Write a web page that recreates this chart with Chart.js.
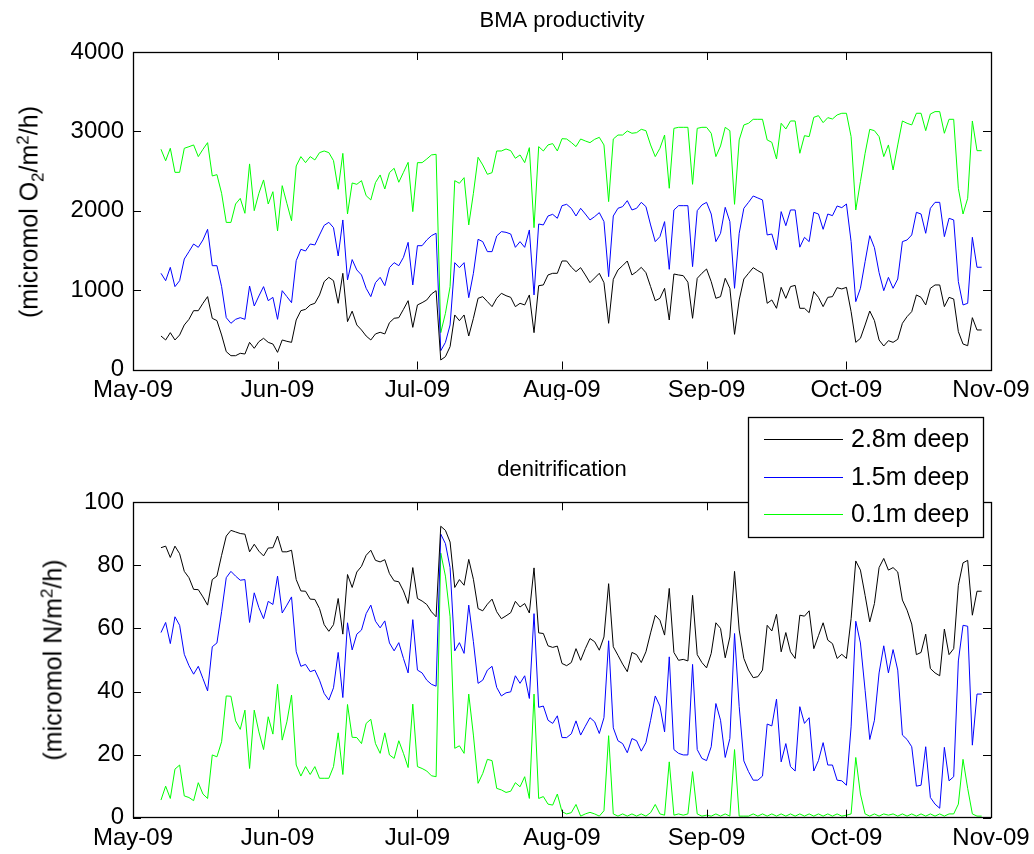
<!DOCTYPE html>
<html>
<head>
<meta charset="utf-8">
<title>BMA productivity and denitrification</title>
<script src="https://cdn.jsdelivr.net/npm/chart.js@4.4.1/dist/chart.umd.min.js"></script>
<style>
  html, body { margin: 0; padding: 0; background: #fff; }
  #wrap { position: relative; width: 1034px; height: 854px; overflow: hidden;
          font-family: 'Liberation Sans', Arial, sans-serif; }
  canvas { position: absolute; left: 0; }
  #topChart { top: 0; }
  #bottomChart { top: 400px; }
  .ylab { position: absolute; font-size: 25px; white-space: nowrap; color: #000;
          transform: translate(-50%, -50%) rotate(-90deg); line-height: 1; }
  .ylab sub, .ylab sup { font-size: 17px; line-height: 0; }
</style>
</head>
<body>
<div id="wrap">
  <canvas id="topChart" width="1034" height="400"></canvas>
  <canvas id="bottomChart" width="1034" height="454"></canvas>
  <div class="ylab" style="left:29px; top:212px">(micromol O<sub>2</sub>/m<sup>2</sup>/h)</div>
  <div class="ylab" style="left:53px; top:660px">(micromol N/m<sup>2</sup>/h)</div>
</div>
<script>
// Daily series, 7 May 2009 – 30 Oct 2009
const firstDate = '2009-05-07';
const seriesLabels = ['2.8m deep', '1.5m deep', '0.1m deep'];
const monthLabels = ['May-09', 'Jun-09', 'Jul-09', 'Aug-09', 'Sep-09', 'Oct-09', 'Nov-09'];

// BMA productivity (micromol O2/m2/h)
const prodDeep = [
  422,372,464,372,435,561,632,741,741,834,
  918,645,616,435,225,174,174,204,195,342,
  267,351,393,342,321,216,372,355,342,624,
  741,758,813,834,939,1107,1161,1119,834,1212,
  603,735,561,498,422,372,448,469,448,590,
  645,653,758,867,531,813,842,876,951,993,
  120,162,288,687,615,687,422,645,897,918,
  855,792,897,960,930,909,792,834,813,939,
  464,1056,1065,1191,1212,1212,1367,1367,1290,1233,
  1283,1191,1094,1153,1212,1094,582,1136,1254,1308,
  1367,1191,1233,1287,1220,1044,867,897,1023,624,
  1203,1191,1182,1100,645,1149,1212,1266,1107,897,
  918,1149,1023,443,876,1140,1212,1283,1245,1212,
  834,876,771,1035,897,1044,1060,771,771,716,
  981,909,792,909,918,1031,1015,1035,729,342,
  393,561,737,616,372,296,363,342,380,582,
  666,729,939,909,813,1023,1065,1065,792,909,
  888,477,321,300,653,498,498
];
const prodMid = [
  1212,1119,1287,1044,1119,1392,1485,1581,1539,1632,
  1766,1308,1308,1044,653,582,632,653,632,1052,
  800,926,1044,867,909,632,993,918,842,1371,
  1514,1493,1581,1569,1695,1816,1854,1787,1430,1884,
  1128,1385,1254,1191,1023,918,1094,1161,1056,1283,
  1346,1308,1413,1602,1065,1560,1560,1632,1686,1716,
  237,342,561,1346,1283,1346,905,1212,1640,1611,
  1485,1485,1682,1737,1728,1707,1539,1611,1539,1758,
  939,1833,1821,1934,1955,1905,2064,2081,2030,1934,
  2031,1959,1884,1926,1976,1863,1170,1934,2031,2052,
  2127,2010,2031,2106,2052,1821,1611,1674,1863,1262,
  2010,2064,2064,2064,1296,2001,2073,2106,1959,1611,
  1716,2043,1863,1023,1716,2031,2106,2186,2161,2136,
  1695,1707,1506,1989,1812,2010,2010,1541,1665,1611,
  1980,1959,1766,1959,1938,2060,2039,2085,1611,855,
  1023,1359,1686,1535,1220,993,1161,1023,1140,1611,
  1632,1695,1980,1959,1716,2031,2106,2106,1674,1905,
  1884,1107,813,834,1665,1288,1288
];
const prodShallow = [
  2775,2630,2787,2484,2484,2787,2807,2829,2682,2774,
  2858,2438,2455,2220,1853,1853,2085,2156,1968,2590,
  2001,2220,2388,2085,2240,1745,2316,2093,1874,2564,
  2682,2606,2682,2640,2732,2753,2732,2631,2270,2723,
  1959,2350,2333,2379,2190,2136,2354,2451,2274,2480,
  2535,2359,2484,2610,1989,2606,2606,2652,2703,2711,
  464,708,1044,2379,2346,2417,1821,2220,2674,2577,
  2459,2480,2753,2753,2778,2757,2661,2703,2606,2795,
  1787,2808,2753,2829,2846,2753,2908,2904,2860,2808,
  2904,2879,2858,2900,2925,2829,2115,2904,2954,2954,
  3005,2976,2984,3026,3009,2829,2682,2787,2954,2283,
  3038,3051,3051,3051,2333,3038,3051,3051,2976,2682,
  2816,3051,3009,2081,2892,3081,3102,3152,3152,3152,
  2892,2862,2652,3102,3030,3131,3131,2724,2946,2934,
  3177,3198,3110,3173,3156,3207,3228,3228,2934,2010,
  2367,2724,3026,3009,2934,2682,2829,2514,2829,3131,
  3102,3081,3228,3228,3009,3219,3249,3249,2976,3152,
  3152,2283,1959,2157,3131,2757,2757
];

// Denitrification (micromol N/m2/h)
const denitDeep = [
  85.6,86.1,82.5,86.1,83.7,78.1,76.1,72.4,72.3,70.0,
  67.4,75.5,76.6,83.2,89.3,91.1,90.6,90.1,89.9,84.3,
  86.7,84.5,83.0,85.5,85.6,89.3,84.3,84.3,84.8,75.5,
  71.9,71.8,69.3,69.2,66.3,61.2,59.1,61.2,69.5,58.2,
  77.1,73.0,77.9,79.7,83.2,84.8,81.6,81.1,81.8,77.4,
  75.1,74.8,71.9,67.9,79.3,69.5,68.7,67.6,65.3,63.7,
  92.4,91.1,87.4,73.0,75.5,73.7,81.9,75.6,66.3,65.6,
  67.7,69.3,65.3,63.1,64.0,65.0,68.6,66.8,67.9,64.9,
  79.2,58.6,58.4,54.5,54.0,54.4,48.9,48.2,49.2,53.6,
  49.9,53.6,56.8,55.8,53.1,57.3,74.2,54.2,51.5,48.7,
  46.3,52.4,51.7,49.2,52.6,58.6,64.2,62.6,57.9,72.7,
  52.4,49.9,50.2,49.7,70.5,51.7,49.2,47.5,52.1,61.8,
  60.0,50.7,57.3,78.1,59.5,50.5,46.8,44.4,44.7,46.8,
  61.0,59.2,64.5,52.6,58.7,52.6,50.5,64.2,63.9,65.6,
  53.6,57.7,61.8,56.3,55.2,50.5,51.8,50.5,63.1,81.4,
  78.5,70.5,62.1,67.9,79.3,82.2,78.5,79.3,77.9,69.0,
  65.8,61.4,51.7,52.4,58.2,47.3,45.9,45.0,59.8,51.7,
  53.6,73.7,80.8,81.6,64.2,71.8,71.8
];
const denitMid = [
  58.7,61.9,55.2,63.7,61.0,51.8,48.2,45.5,48.0,44.1,
  40.2,54.2,55.4,65.3,76.1,78.1,76.6,75.3,75.5,61.9,
  71.3,66.6,63.1,68.6,67.6,76.6,64.9,67.4,70.0,52.6,
  48.0,48.6,46.3,46.8,43.6,39.4,37.3,41.2,52.4,38.1,
  61.8,53.2,58.2,59.5,64.7,67.4,62.3,60.2,62.4,55.4,
  52.9,55.5,50.5,45.9,62.8,46.8,45.9,43.6,42.3,41.7,
  89.9,86.9,79.3,52.9,55.5,52.1,67.4,55.8,42.6,43.6,
  46.8,48.0,41.3,38.6,39.6,39.9,45.0,42.6,45.0,37.8,
  64.7,35.0,35.4,30.9,29.9,32.3,25.4,25.4,26.6,30.7,
  26.2,29.0,31.7,30.4,26.7,31.7,56.1,28.5,24.4,23.5,
  20.6,25.1,24.4,21.1,23.8,30.9,38.6,35.4,27.2,51.0,
  21.6,20.4,19.9,19.9,48.6,21.6,18.8,18.1,22.5,36.2,
  30.9,19.1,25.1,58.4,35.2,18.0,14.6,11.9,11.9,13.2,
  29.7,29.1,37.6,17.7,23.5,16.2,14.8,35.2,29.9,31.7,
  14.8,18.1,23.8,16.7,16.7,11.9,11.7,10.3,28.8,62.3,
  55.4,40.4,24.8,30.9,45.9,54.5,45.9,53.3,46.8,26.2,
  24.8,22.5,10.0,10.3,22.5,6.4,4.3,3.0,22.3,11.7,
  13.0,49.7,61.0,60.7,23.0,39.2,39.2
];
const denitShallow = [
  5.6,10.0,6.1,15.4,16.7,6.9,6.4,5.4,11.1,7.5,
  6.1,19.9,19.3,24.1,38.6,38.5,30.7,28.0,34.1,15.6,
  34.1,27.2,21.6,32.0,26.5,42.3,24.6,30.4,38.9,16.7,
  13.2,16.2,13.7,16.2,12.5,12.5,12.5,16.2,26.9,13.7,
  35.9,25.5,25.4,23.5,29.9,31.2,23.5,20.4,26.9,19.9,
  18.8,24.4,20.4,15.9,36.0,16.2,15.6,14.8,13.3,13.0,
  83.9,76.6,63.7,22.0,22.8,20.4,39.2,26.2,10.9,14.0,
  18.5,18.1,9.3,8.8,8.0,8.4,11.1,9.8,13.0,6.1,
  39.2,6.1,6.7,4.3,4.0,7.5,1.9,1.2,1.6,4.2,
  0.5,1.2,1.7,1.2,0.5,2.2,26.0,1.2,0.5,1.2,
  0.5,1.2,0.5,1.2,0.5,1.6,4.2,1.2,0.8,17.7,
  0.8,1.2,0.8,1.2,14.6,1.2,0.5,0.8,0.5,1.2,
  0.5,1.2,0.5,21.6,0.5,0.5,0.5,1.2,0.5,1.2,
  0.5,1.2,0.5,1.2,0.5,1.2,0.5,1.2,0.5,1.2,
  0.5,1.2,0.5,1.2,0.5,1.2,0.5,0.8,1.2,19.1,
  7.5,1.2,0.5,1.2,0.5,1.2,0.8,1.2,0.5,1.2,
  0.5,1.2,0.5,1.2,0.5,1.2,0.5,1.2,0.5,1.2,
  1.2,4.3,18.5,9.3,1.2,0.5,0.5
];

const seriesColors = ['#000000', '#0000ff', '#00ff00'];

// x axis runs in days counted from 1 May 2009
const DAY = 86400000;
const origin = Date.UTC(2009, 4, 1);
const monthStarts = monthLabels.map((_, i) => (Date.UTC(2009, 4 + i, 1) - origin) / DAY);
const startDay = (Date.parse(firstDate + 'T00:00:00Z') - origin) / DAY;

function toPoints(values) {
  return values.map((v, i) => ({ x: startDay + i, y: v }));
}

const FONT = "'Liberation Sans', Arial, sans-serif";
Chart.defaults.font.family = FONT;
Chart.defaults.color = '#000';

const TICK_LEN = 8;

// MATLAB-style box with inward ticks on all four sides, plus a title centred over the axes
const boxFrame = {
  id: 'boxFrame',
  afterDatasetsDraw(chart, args, opts) {
    const { ctx, chartArea: a, scales: { x, y } } = chart;
    ctx.save();
    ctx.strokeStyle = '#000';
    ctx.lineWidth = 1;
    ctx.beginPath();
    x.ticks.forEach(t => {
      const px = Math.round(x.getPixelForValue(t.value)) + 0.5;
      ctx.moveTo(px, a.bottom); ctx.lineTo(px, a.bottom - TICK_LEN);
      ctx.moveTo(px, a.top); ctx.lineTo(px, a.top + TICK_LEN);
    });
    y.ticks.forEach(t => {
      const py = Math.round(y.getPixelForValue(t.value)) + 0.5;
      ctx.moveTo(a.left, py); ctx.lineTo(a.left + TICK_LEN, py);
      ctx.moveTo(a.right, py); ctx.lineTo(a.right - TICK_LEN, py);
    });
    ctx.stroke();
    ctx.lineWidth = 1.3;
    ctx.strokeRect(Math.round(a.left) + 0.5, Math.round(a.top) + 0.5,
                   Math.round(a.width), Math.round(a.height));
    if (opts.title) {
      ctx.fillStyle = '#000';
      ctx.font = '22px ' + FONT;
      ctx.textAlign = 'center';
      ctx.textBaseline = 'middle';
      ctx.fillText(opts.title, (a.left + a.right) / 2, opts.titleY);
    }
    ctx.restore();
  }
};

// Boxed legend placed over the upper-right corner of the lower axes
const boxedLegend = {
  id: 'boxedLegend',
  afterDraw(chart, args, opts) {
    if (!opts || !opts.width) return;
    const { ctx } = chart;
    const { left, top, width, height, rowGap, lineLen, textGap } = opts;
    ctx.save();
    ctx.fillStyle = '#fff';
    ctx.fillRect(left, top, width, height);
    ctx.strokeStyle = '#000';
    ctx.lineWidth = 1.3;
    ctx.strokeRect(left + 0.5, top + 0.5, width, height);
    ctx.font = '25px ' + FONT;
    ctx.textBaseline = 'middle';
    ctx.textAlign = 'left';
    chart.data.datasets.forEach((ds, i) => {
      const cy = Math.round(top + opts.firstRow + i * rowGap) + 0.5;
      ctx.strokeStyle = seriesColors[i];
      ctx.lineWidth = 1.2;
      ctx.beginPath();
      ctx.moveTo(left + 16, cy);
      ctx.lineTo(left + 16 + lineLen, cy);
      ctx.stroke();
      ctx.fillStyle = '#000';
      ctx.fillText(ds.label, left + 16 + lineLen + textGap, cy + 1);
    });
    ctx.restore();
  }
};

function makeChart(canvasId, cfg) {
  const datasets = cfg.series.map((vals, i) => ({
    label: seriesLabels[i],
    data: toPoints(vals),
    borderColor: seriesColors[i],
    backgroundColor: seriesColors[i],
    borderWidth: 1,
    pointRadius: 0,
    tension: 0,
    fill: false
  }));
  return new Chart(document.getElementById(canvasId), {
    type: 'line',
    data: { datasets },
    plugins: cfg.extraPlugins,
    options: {
      responsive: false,
      animation: false,
      events: [],
      layout: { padding: { left: 0, right: 43, top: cfg.plotTop, bottom: 0 } },
      plugins: {
        legend: { display: false },
        tooltip: { enabled: false },
        title: { display: false },
        boxFrame: { title: cfg.title, titleY: cfg.titleY },
        boxedLegend: cfg.legend || {}
      },
      scales: {
        x: {
          type: 'linear',
          min: monthStarts[0],
          max: monthStarts[monthStarts.length - 1],
          grid: { display: false, drawTicks: false },
          border: { display: false },
          afterBuildTicks(scale) { scale.ticks = monthStarts.map(v => ({ value: v })); },
          afterFit(scale) {
            scale.height = cfg.xHeight;
            scale.paddingLeft = 0; scale.paddingRight = 0;
          },
          ticks: {
            autoSkip: false, maxRotation: 0, minRotation: 0,
            padding: 6, color: '#000',
            font: { size: 24 },
            callback: (v, i) => monthLabels[i]
          }
        },
        y: {
          min: cfg.yMin, max: cfg.yMax,
          grid: { display: false, drawTicks: false },
          border: { display: false },
          afterFit(scale) {
            scale.width = 133;
            scale.paddingTop = 0; scale.paddingBottom = 0;
          },
          ticks: {
            stepSize: cfg.yStep, padding: 9, color: '#000', font: { size: 24 },
            callback: v => String(v)
          }
        }
      }
    }
  });
}

makeChart('topChart', {
  title: 'BMA productivity',
  titleY: 21,
  plotTop: 52,
  xHeight: 30.5,
  yMin: 0, yMax: 4000, yStep: 1000,
  series: [prodDeep, prodMid, prodShallow],
  extraPlugins: [boxFrame]
});

makeChart('bottomChart', {
  title: 'denitrification',
  titleY: 70,
  plotTop: 102.3,
  xHeight: 36.3,
  yMin: 0, yMax: 100, yStep: 20,
  series: [denitDeep, denitMid, denitShallow],
  extraPlugins: [boxFrame, boxedLegend],
  legend: { left: 748, top: 17, width: 235, height: 120, firstRow: 22, rowGap: 37.5, lineLen: 79, textGap: 8 }
});
</script>
</body>
</html>
